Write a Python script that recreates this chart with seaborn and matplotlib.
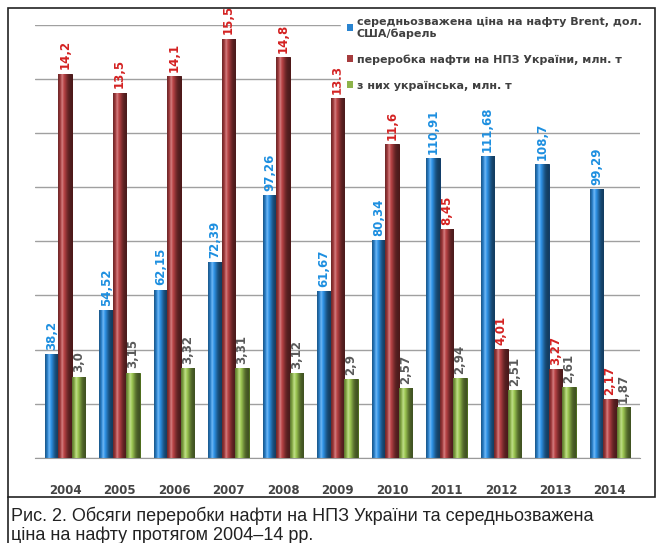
import matplotlib
matplotlib.use('Agg')
import matplotlib.pyplot as plt
import matplotlib.lines as mlines
import matplotlib.patches as mpatches
from matplotlib.colors import to_hex, to_rgb
import numpy as np
import pandas as pd
import seaborn as sns

YEARS = ['2004', '2005', '2006', '2007', '2008', '2009', '2010', '2011', '2012', '2013', '2014']
BRENT = [38.2, 54.52, 62.15, 72.39, 97.26, 61.67, 80.34, 110.91, 111.68, 108.7, 99.29]
REFINING = [14.2, 13.5, 14.1, 15.5, 14.8, 13.3, 11.6, 8.45, 4.01, 3.27, 2.17]
UKRAINIAN = [3.0, 3.15, 3.32, 3.31, 3.12, 2.9, 2.57, 2.94, 2.51, 2.61, 1.87]

SERIES = ['середньозважена ціна на нафту Brent, дол.\nСША/барель',
          'переробка нафти на НПЗ України, млн. т',
          'з них українська, млн. т']
BAR_COLORS = ['#2a84d0', '#a63c3e', '#8db34a']
EDGE_COLORS = ['#0e3a66', '#4a1414', '#4b6a1a']
LABEL_COLORS = ['#1d8fe0', '#d42222', '#5a5a5a']

CAPTION = ('Рис. 2. Обсяги переробки нафти на НПЗ України та середньозважена\n'
           'ціна на нафту протягом 2004–14 рр.')


def to_label(v):
    return str(v).replace('.', ',')


def cylinder_shade(axis, bar, color):
    # horizontal shading so the flat bars look a bit like the cylinders
    t = np.linspace(0, 1, 40)
    light = 0.45 + 0.7 * np.exp(-((t - 0.35) / 0.32) ** 2)
    rgb = np.clip(np.outer(light, to_rgb(color)), 0, 1)
    shine = 0.3 * np.exp(-((t - 0.3) / 0.08) ** 2)
    rgb = rgb + (1 - rgb) * shine[:, None]
    x0, y0 = bar.get_x(), bar.get_y()
    img = axis.imshow(rgb[None, :, :], extent=(x0, x0 + bar.get_width(), y0, y0 + bar.get_height()),
                      aspect='auto', interpolation='bilinear', zorder=bar.get_zorder() + 0.1)
    img.set_clip_path(bar)


df = pd.DataFrame({
    'year': YEARS * 3,
    'series': [SERIES[0]] * len(YEARS) + [SERIES[1]] * len(YEARS) + [SERIES[2]] * len(YEARS),
    'value': BRENT + REFINING + UKRAINIAN,
})
left_df = df.assign(value=df['value'].where(df['series'] == SERIES[0]))
right_df = df.assign(value=df['value'].where(df['series'] != SERIES[0]))

sns.set_style('white')
fig = plt.figure(figsize=(6.63, 5.43), dpi=100)
ax = fig.add_axes([0.053, 0.157, 0.912, 0.797])
ax2 = ax.twinx()

palette = dict(zip(SERIES, BAR_COLORS))
sns.barplot(data=left_df, x='year', y='value', hue='series', hue_order=SERIES,
            palette=palette, ax=ax, width=0.74, errorbar=None, legend=False, saturation=1)
sns.barplot(data=right_df, x='year', y='value', hue='series', hue_order=SERIES,
            palette=palette, ax=ax2, width=0.74, errorbar=None, legend=False, saturation=1)

values = [BRENT, REFINING, UKRAINIAN]
for axis in (ax, ax2):
    for cont in list(axis.containers):
        bars = [b for b in cont if b.get_height() == b.get_height() and b.get_height() > 0]
        if not bars:
            continue
        col = to_hex(bars[0].get_facecolor())
        if col not in BAR_COLORS:
            continue
        i = BAR_COLORS.index(col)
        for bar in bars:
            bar.set_edgecolor(EDGE_COLORS[i])
            bar.set_linewidth(0.7)
            cylinder_shade(axis, bar, BAR_COLORS[i])
        labels = [to_label(v) for v in values[i]][:len(cont)]
        axis.bar_label(cont, labels=labels, rotation=90, padding=3,
                       color=LABEL_COLORS[i], fontsize=8.5, fontweight='bold')

ax.set_ylim(0, 160)
ax2.set_ylim(0, 16)
ax.set_yticks(range(0, 161, 20))
ax.grid(axis='y', color='#a0a0a0', linewidth=1)
ax.set_axisbelow(True)
for axis in (ax, ax2):
    axis.set_ylabel('')
    axis.set_xlabel('')
    axis.set_xlim(-0.55, len(YEARS) - 0.45)
    axis.tick_params(axis='y', left=False, right=False, labelleft=False, labelright=False)
    for side in ('top', 'right', 'left', 'bottom'):
        axis.spines[side].set_visible(False)
ax.spines['bottom'].set_visible(True)
ax.spines['bottom'].set_color('#9a9a9a')
ax.tick_params(axis='x', length=0, pad=19, labelsize=8.5, labelcolor='#444444')
for t in ax.get_xticklabels():
    t.set_fontweight('bold')
ax.set_xticks([i + 0.5 for i in range(-1, len(YEARS))], minor=True)
ax.tick_params(axis='x', which='minor', length=5, color='#9a9a9a', direction='out')

handles = [mpatches.Patch(facecolor=c, edgecolor='none') for c in BAR_COLORS]
leg = fig.legend(handles, SERIES, loc='upper left', bbox_to_anchor=(0.506, 0.99),
                 frameon=True, handlelength=0.6, handleheight=0.6, handletextpad=0.3,
                 labelspacing=1.4, fontsize=8, borderpad=0.5)
leg.get_frame().set_edgecolor('white')
leg.get_frame().set_facecolor('white')
leg.get_frame().set_alpha(1)
for t in leg.get_texts():
    t.set_fontweight('bold')
    t.set_color('#404040')

# outer frame and caption
fig.add_artist(mpatches.Rectangle((0.012, 0.085), 0.976, 0.9, transform=fig.transFigure,
                                  fill=False, edgecolor='#222222', linewidth=1.2))
fig.add_artist(mlines.Line2D([0.012, 0.012], [0.0, 0.085], transform=fig.transFigure,
                             color='#222222', linewidth=1.2))
fig.text(0.017, 0.066, CAPTION, ha='left', va='top', fontsize=13,
         family='Liberation Sans', color='#222222', linespacing=1.1)

fig.savefig('out.png', dpi=100)
